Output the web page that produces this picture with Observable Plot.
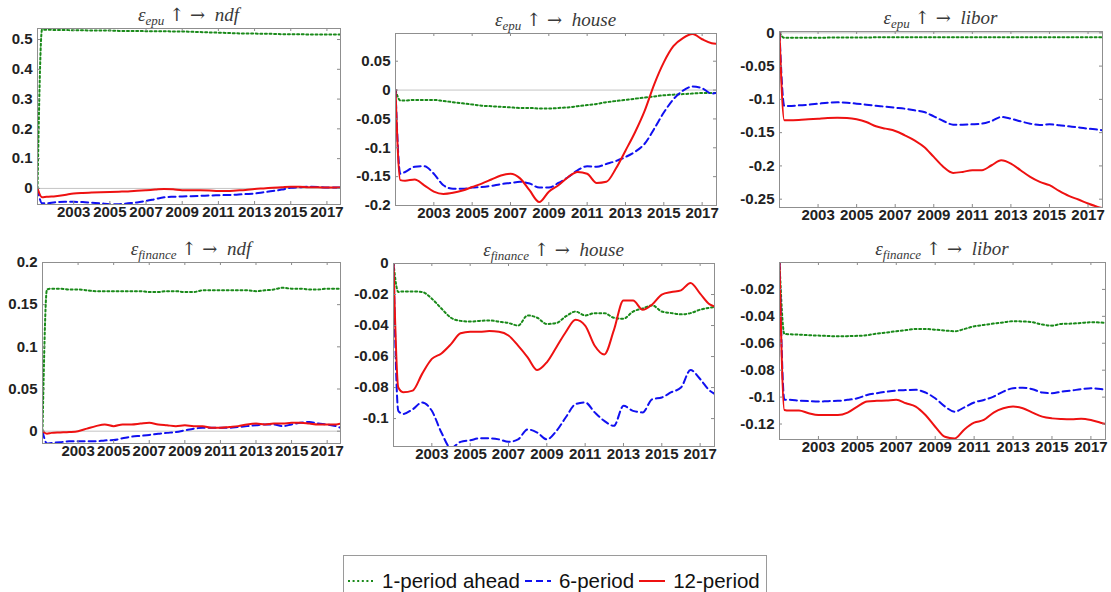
<!DOCTYPE html>
<html>
<head>
<meta charset="utf-8">
<script src="https://cdn.jsdelivr.net/npm/d3@7"></script>
<script src="https://cdn.jsdelivr.net/npm/@observablehq/plot@0.6"></script>
<style>
  html, body { margin: 0; padding: 0; background: #fff; }
  body { width: 1111px; height: 592px; overflow: hidden; position: relative;
         font-family: "Liberation Sans", Arial, sans-serif; }
  .panel { position: absolute; }
  .panel svg { max-width: none; display: block; }
  .title { position: absolute; transform: translate(-50%, -50%); white-space: nowrap;
           font-family: "Liberation Serif", "DejaVu Serif", serif; font-size: 19px; color: #3a3a3a; }
  .title i { font-style: italic; }
  .title sub { font-size: 13px; font-style: italic; vertical-align: -4px; }
  .title .ops { margin: 0 5px; font-style: normal; font-family: "DejaVu Serif", serif; font-size: 18px; }
  #legend { position: absolute; left: 343px; top: 555px; width: 424px; height: 50px;
            border: 1px solid #9a9a9a; background: #fff; box-sizing: border-box;
            display: flex; align-items: flex-start; padding-left: 3px; padding-top: 13px;
            font-size: 20.5px; line-height: 24px; color: #111; white-space: nowrap; }
  #legend .item { display: flex; align-items: center; flex-shrink: 0; }
  #legend svg { display: block; margin-right: 7px; }
  #legend span.lbl { margin-right: 4px; }
</style>
</head>
<body>
<div id="root"></div>
<script>
// Quarter-year time grid (first point is the impact period, value 0)
const T = [2001, 2001.25, 2001.5, 2002, 2002.5, 2003, 2003.5, 2004, 2004.5, 2005, 2005.5, 2006,
  2006.5, 2007, 2007.5, 2008, 2008.5, 2009, 2009.5, 2010, 2010.5, 2011, 2011.5, 2012, 2012.5,
  2013, 2013.5, 2014, 2014.5, 2015, 2015.5, 2016, 2016.5, 2017, 2017.5, 2017.75];

const xTickYears = [2003, 2005, 2007, 2009, 2011, 2013, 2015, 2017];
const horizonLabels = ["1-period ahead", "6-period", "12-period"];

// epu shock -> ndf
const epuNdf1 = [0, 0.533, 0.533, 0.532, 0.532, 0.531, 0.531, 0.530, 0.530, 0.530, 0.529, 0.529, 0.529, 0.528, 0.528, 0.528, 0.527, 0.527, 0.526, 0.525, 0.524, 0.523, 0.522, 0.521, 0.520, 0.520, 0.519, 0.519, 0.518, 0.518, 0.518, 0.517, 0.517, 0.517, 0.517, 0.517];
const epuNdf6 = [0, -0.050, -0.050, -0.046, -0.045, -0.045, -0.046, -0.048, -0.050, -0.053, -0.053, -0.050, -0.047, -0.042, -0.036, -0.030, -0.028, -0.027, -0.026, -0.025, -0.024, -0.023, -0.022, -0.021, -0.019, -0.017, -0.013, -0.009, -0.004, 0.002, 0.004, 0.006, 0.005, 0.003, 0.003, 0.003];
const epuNdf12 = [0, -0.030, -0.028, -0.026, -0.022, -0.017, -0.015, -0.014, -0.013, -0.012, -0.011, -0.010, -0.008, -0.006, -0.004, -0.002, -0.003, -0.006, -0.006, -0.006, -0.007, -0.009, -0.009, -0.007, -0.005, -0.002, 0.000, 0.002, 0.004, 0.006, 0.006, 0.004, 0.004, 0.003, 0.003, 0.003];

// epu shock -> house
const epuHouse1 = [0, -0.018, -0.018, -0.017, -0.017, -0.017, -0.019, -0.021, -0.023, -0.025, -0.027, -0.028, -0.029, -0.030, -0.031, -0.031, -0.032, -0.032, -0.031, -0.030, -0.028, -0.026, -0.024, -0.021, -0.019, -0.017, -0.015, -0.013, -0.011, -0.009, -0.008, -0.007, -0.006, -0.005, -0.005, -0.005];
const epuHouse6 = [0, -0.145, -0.142, -0.133, -0.132, -0.145, -0.165, -0.171, -0.171, -0.169, -0.168, -0.166, -0.163, -0.161, -0.159, -0.162, -0.169, -0.169, -0.161, -0.151, -0.139, -0.132, -0.133, -0.128, -0.123, -0.116, -0.107, -0.093, -0.067, -0.039, -0.016, -0.001, 0.006, 0.003, -0.006, -0.005];
const epuHouse12 = [0, -0.156, -0.157, -0.155, -0.165, -0.176, -0.180, -0.178, -0.174, -0.168, -0.162, -0.155, -0.148, -0.145, -0.153, -0.174, -0.194, -0.176, -0.165, -0.151, -0.142, -0.145, -0.161, -0.159, -0.136, -0.105, -0.073, -0.036, 0.010, 0.048, 0.076, 0.090, 0.097, 0.088, 0.081, 0.080];

// epu shock -> libor
const epuLibor1 = [0, -0.0075, -0.0075, -0.0075, -0.0074, -0.0073, -0.0072, -0.0071, -0.0070, -0.0070, -0.0069, -0.0068, -0.0068, -0.0067, -0.0067, -0.0066, -0.0066, -0.0066, -0.0065, -0.0065, -0.0065, -0.0065, -0.0065, -0.0065, -0.0065, -0.0065, -0.0065, -0.0065, -0.0065, -0.0066, -0.0066, -0.0066, -0.0066, -0.0066, -0.0066, -0.0066];
const epuLibor6 = [0, -0.110, -0.110, -0.109, -0.108, -0.1065, -0.105, -0.1045, -0.105, -0.1065, -0.108, -0.1095, -0.111, -0.1125, -0.114, -0.1165, -0.119, -0.1255, -0.1325, -0.138, -0.138, -0.1375, -0.1365, -0.1325, -0.1265, -0.129, -0.133, -0.1365, -0.1385, -0.1375, -0.139, -0.1405, -0.142, -0.144, -0.1455, -0.1465];
const epuLibor12 = [0, -0.1315, -0.1315, -0.131, -0.130, -0.129, -0.128, -0.1275, -0.128, -0.130, -0.134, -0.1405, -0.144, -0.1475, -0.154, -0.1615, -0.1715, -0.1865, -0.2015, -0.2105, -0.209, -0.2065, -0.2065, -0.199, -0.1915, -0.1965, -0.2065, -0.2165, -0.224, -0.229, -0.2375, -0.245, -0.2505, -0.2565, -0.2615, -0.2635];

// finance shock -> ndf
const finNdf1 = [0, 0.168, 0.169, 0.169, 0.168, 0.168, 0.167, 0.166, 0.166, 0.166, 0.166, 0.166, 0.166, 0.165, 0.165, 0.166, 0.166, 0.165, 0.165, 0.167, 0.167, 0.167, 0.167, 0.167, 0.167, 0.166, 0.167, 0.168, 0.170, 0.169, 0.169, 0.168, 0.168, 0.169, 0.169, 0.169];
const finNdf6 = [0, -0.0145, -0.014, -0.013, -0.012, -0.012, -0.012, -0.012, -0.011, -0.0105, -0.0085, -0.0065, -0.0055, -0.0045, -0.003, -0.002, -0.001, 0.001, 0.003, 0.004, 0.004, 0.004, 0.004, 0.005, 0.006, 0.007, 0.008, 0.008, 0.006, 0.008, 0.010, 0.011, 0.009, 0.008, 0.006, 0.004];
const finNdf12 = [0, -0.003, -0.002, -0.0015, -0.001, 0.000, 0.003, 0.006, 0.008, 0.006, 0.008, 0.008, 0.009, 0.010, 0.008, 0.007, 0.006, 0.007, 0.006, 0.006, 0.004, 0.004, 0.005, 0.006, 0.008, 0.009, 0.008, 0.009, 0.009, 0.010, 0.010, 0.009, 0.008, 0.008, 0.008, 0.009];

// finance shock -> house
const finHouse1 = [0, -0.0184, -0.018, -0.018, -0.0184, -0.0227, -0.029, -0.035, -0.037, -0.0374, -0.037, -0.0367, -0.0375, -0.0384, -0.040, -0.0335, -0.035, -0.039, -0.0384, -0.034, -0.031, -0.0335, -0.032, -0.032, -0.035, -0.0356, -0.031, -0.029, -0.027, -0.031, -0.032, -0.0328, -0.032, -0.0298, -0.0285, -0.028];
const finHouse6 = [0, -0.095, -0.097, -0.094, -0.0896, -0.095, -0.109, -0.119, -0.115, -0.114, -0.1127, -0.1127, -0.1134, -0.115, -0.1134, -0.107, -0.109, -0.1134, -0.108, -0.099, -0.0907, -0.0896, -0.096, -0.1015, -0.1047, -0.0918, -0.095, -0.096, -0.0875, -0.0864, -0.083, -0.080, -0.0687, -0.0745, -0.082, -0.084];
const finHouse12 = [0, -0.080, -0.083, -0.082, -0.071, -0.0615, -0.058, -0.052, -0.045, -0.044, -0.044, -0.0436, -0.044, -0.0464, -0.053, -0.0605, -0.0687, -0.0637, -0.054, -0.044, -0.0363, -0.040, -0.053, -0.0587, -0.043, -0.0238, -0.0238, -0.0298, -0.0264, -0.020, -0.0184, -0.0173, -0.0125, -0.0194, -0.0264, -0.0276];

// finance shock -> libor
const finLibor1 = [0, -0.0531, -0.0533, -0.0536, -0.054, -0.0543, -0.0546, -0.0548, -0.0547, -0.0545, -0.054, -0.0528, -0.052, -0.0511, -0.0502, -0.0494, -0.0494, -0.0499, -0.0505, -0.0511, -0.0494, -0.0474, -0.0464, -0.0454, -0.0445, -0.0436, -0.0438, -0.0444, -0.0461, -0.0469, -0.0456, -0.0454, -0.0449, -0.0444, -0.0446, -0.0449];
const finLibor6 = [0, -0.102, -0.102, -0.1026, -0.103, -0.1033, -0.103, -0.1028, -0.102, -0.1009, -0.0984, -0.0971, -0.096, -0.0951, -0.0948, -0.0946, -0.0966, -0.1009, -0.107, -0.1108, -0.1076, -0.104, -0.1021, -0.0996, -0.0959, -0.0934, -0.093, -0.0941, -0.0966, -0.0971, -0.0959, -0.0951, -0.0941, -0.0934, -0.094, -0.0946];
const finLibor12 = [0, -0.1096, -0.110, -0.110, -0.112, -0.1133, -0.1133, -0.1133, -0.1115, -0.107, -0.1033, -0.1028, -0.1025, -0.102, -0.1046, -0.107, -0.1133, -0.122, -0.1295, -0.1307, -0.124, -0.119, -0.117, -0.1115, -0.1083, -0.107, -0.1083, -0.1115, -0.1145, -0.1158, -0.1163, -0.1165, -0.116, -0.117, -0.119, -0.120];

// y tick values per panel
const yTicksEpuNdf = [0, 0.1, 0.2, 0.3, 0.4, 0.5];
const yTicksEpuHouse = [-0.2, -0.15, -0.1, -0.05, 0, 0.05];
const yTicksEpuLibor = [-0.25, -0.2, -0.15, -0.1, -0.05, 0];
const yTicksFinNdf = [0, 0.05, 0.1, 0.15, 0.2];
const yTicksFinHouse = [-0.1, -0.08, -0.06, -0.04, -0.02, 0];
const yTicksFinLibor = [-0.12, -0.1, -0.08, -0.06, -0.04, -0.02];

// line styles for the three horizons
const styles = [
  {color: "#1a8a1a", width: 2, dash: "2,2.6"},
  {color: "#1010f0", width: 2, dash: "7,4"},
  {color: "#ee1111", width: 2, dash: null}
];

const panels = [
  {shock: "epu", target: "ndf", box: {x: 37, y: 28, w: 303, h: 176}, yDomain: [-0.054, 0.537], yTicks: yTicksEpuNdf, series: [epuNdf1, epuNdf6, epuNdf12]},
  {shock: "epu", target: "house", box: {x: 395, y: 33, w: 321, h: 172}, yDomain: [-0.2, 0.098], yTicks: yTicksEpuHouse, series: [epuHouse1, epuHouse6, epuHouse12]},
  {shock: "epu", target: "libor", box: {x: 779, y: 31, w: 323, h: 176}, yDomain: [-0.2625, 0.002], yTicks: yTicksEpuLibor, series: [epuLibor1, epuLibor6, epuLibor12]},
  {shock: "finance", target: "ndf", box: {x: 42, y: 262, w: 298, h: 181}, yDomain: [-0.0146, 0.2], yTicks: yTicksFinNdf, series: [finNdf1, finNdf6, finNdf12]},
  {shock: "finance", target: "house", box: {x: 393, y: 263, w: 321, h: 183}, yDomain: [-0.118, 0], yTicks: yTicksFinHouse, series: [finHouse1, finHouse6, finHouse12]},
  {shock: "finance", target: "libor", box: {x: 779, y: 262, w: 326, h: 177}, yDomain: [-0.1315, 0], yTicks: yTicksFinLibor, series: [finLibor1, finLibor6, finLibor12]}
];

const root = document.getElementById("root");
const mL = 52, mR = 6, mT = 6, mB = 26;
const tickColor = "#8a8a8a";
const axisFont = {fontSize: 15, fontWeight: "bold", fill: "#222"};

for (const p of panels) {
  const {box} = p;
  const lines = p.series.map((vals, k) =>
    Plot.line(T.map((t, i) => ({t, v: vals[i]})), {
      x: "t", y: "v", stroke: styles[k].color, strokeWidth: styles[k].width,
      strokeDasharray: styles[k].dash, curve: "monotone-x", clip: true
    })
  );
  const svg = Plot.plot({
    width: box.w + mL + mR,
    height: box.h + mT + mB,
    marginLeft: mL, marginRight: mR, marginTop: mT, marginBottom: mB,
    style: {background: "transparent", overflow: "visible", fontFamily: "'Liberation Sans', Arial, sans-serif"},
    x: {domain: [2001, 2017.75], label: null},
    y: {domain: p.yDomain, label: null},
    marks: [
      Plot.ruleY([0], {stroke: "#c4c4c4", strokeWidth: 1}),
      lines,
      // inward ticks on all four sides
      Plot.ruleX(xTickYears, {x: d => d, stroke: tickColor, insetTop: box.h - 3}),
      Plot.ruleX(xTickYears, {x: d => d, stroke: tickColor, insetBottom: box.h - 3}),
      Plot.ruleY(p.yTicks, {y: d => d, stroke: tickColor, insetRight: box.w - 3}),
      Plot.ruleY(p.yTicks, {y: d => d, stroke: tickColor, insetLeft: box.w - 3}),
      Plot.frame({stroke: "#8f8f8f"}),
      Plot.axisX(xTickYears, {tickSize: 0, tickPadding: 2, tickFormat: d => String(d), label: null, ...axisFont}),
      Plot.axisY(p.yTicks, {tickSize: 0, tickPadding: 5, tickFormat: d => String(d), label: null, ...axisFont})
    ]
  });
  const wrap = document.createElement("div");
  wrap.className = "panel";
  wrap.style.left = (box.x - mL) + "px";
  wrap.style.top = (box.y - mT) + "px";
  wrap.appendChild(svg);
  root.appendChild(wrap);

  const title = document.createElement("div");
  title.className = "title";
  title.style.left = (box.x + box.w / 2) + "px";
  title.style.top = (box.y - 12) + "px";
  title.innerHTML = `<i>ε</i><sub>${p.shock}</sub><span class="ops">↑ →</span>&nbsp;<i>${p.target}</i>`;
  root.appendChild(title);
}

// legend below the grid
const legend = document.createElement("div");
legend.id = "legend";
horizonLabels.forEach((lbl, k) => {
  const item = document.createElement("div");
  item.className = "item";
  const s = styles[k];
  item.innerHTML = `<svg width="28" height="10"><line x1="1" x2="27" y1="5" y2="5" stroke="${s.color}" stroke-width="${s.width}" ${s.dash ? `stroke-dasharray="${s.dash}"` : ""}/></svg><span class="lbl">${lbl}</span>`;
  legend.appendChild(item);
});
root.appendChild(legend);
</script>
</body>
</html>
